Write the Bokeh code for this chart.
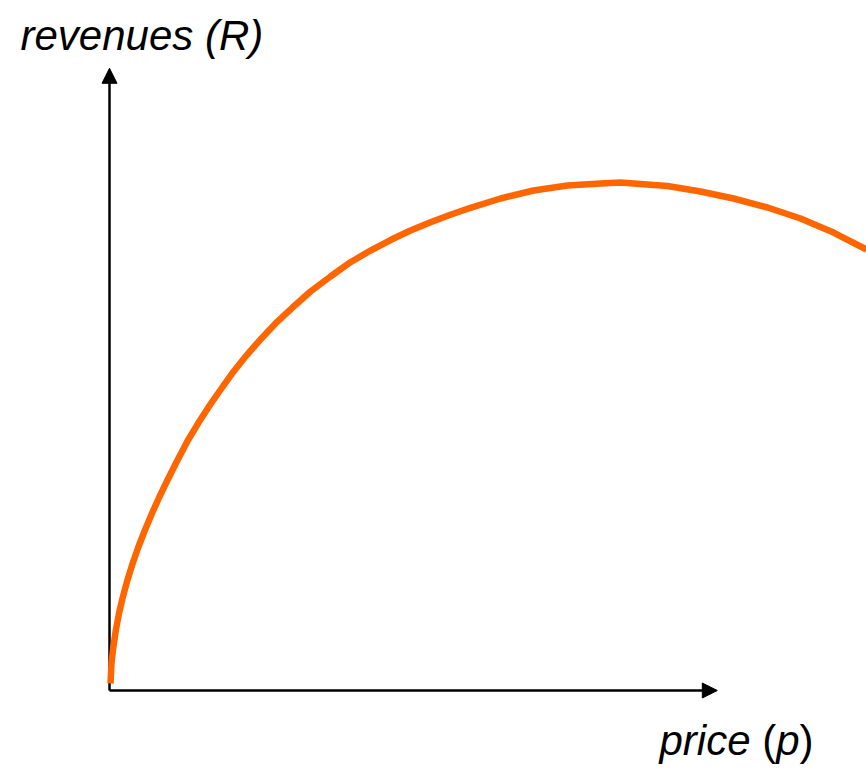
from bokeh.plotting import figure
from bokeh.models import Arrow, NormalHead, Range1d
from bokeh.core.properties import value
from bokeh.embed import file_html
from bokeh.resources import INLINE

# Revenue curve R(p) (arbitrary units, no ticks shown)
price = [0.017, 0.033, 0.063, 0.105, 0.158, 0.220, 0.297, 0.385, 0.478, 0.588,
         0.707, 0.827, 0.963, 1.105, 1.305, 1.472, 1.650, 1.842, 2.042, 2.258,
         2.500, 2.767, 3.050, 3.350, 3.683, 4.017, 4.350, 4.683, 5.017, 5.350,
         5.683, 6.017, 6.517, 7.067, 7.633, 8.183, 8.517, 8.733, 9.300, 9.850,
         10.400, 10.967, 11.517, 12.067, 12.617]
revenue = [0.117, 0.450, 0.717, 1.000, 1.283, 1.550, 1.833, 2.117, 2.383, 2.667,
           2.950, 3.217, 3.500, 3.783, 4.167, 4.445, 4.722, 5.000, 5.283, 5.555,
           5.833, 6.117, 6.383, 6.650, 6.900, 7.138, 7.333, 7.508, 7.667, 7.805,
           7.928, 8.045, 8.200, 8.333, 8.417, 8.450, 8.467, 8.450, 8.408, 8.317,
           8.200, 8.050, 7.867, 7.633, 7.350]
x_axis_end = 10.13
y_axis_end = 10.37
y_label = "revenues (R)"
x_label_parts = ["price", "(", "p", ")"]
x_label_styles = ["italic", "normal", "italic", "normal"]

W, H = 866, 769
PX = 60.0  # pixels per unit
OX, OY = 109, 690  # origin position on the page
p = figure(width=W, height=H, output_backend="svg", toolbar_location=None,
           x_axis_type=None, y_axis_type=None,
           x_range=Range1d(-OX / PX, (W - OX) / PX),
           y_range=Range1d((OY - H) / PX, OY / PX),
           min_border=0, min_border_left=0, min_border_right=0,
           min_border_top=0, min_border_bottom=0)
p.outline_line_color = None
p.grid.visible = False
p.background_fill_color = "white"
p.border_fill_color = "white"

# axes with arrow heads
for xe, ye in [(0, y_axis_end), (x_axis_end, 0)]:
    arr = Arrow(x_start=0, y_start=0, x_end=xe, y_end=ye,
                line_color="black", line_width=2.5,
                end=NormalHead(size=15, fill_color="black", line_color="black", line_width=1),
                level="underlay")
    p.add_layout(arr)

# revenue curve
p.line(price, revenue, line_color="#FF6600", line_width=6.5, line_join="round")

FS = "42px"
font = value("Liberation Sans")
BASE_FIX = 15  # compensation for baseline placement


def ux(px):
    return (px - OX) / PX


def uy(py):
    return (OY - py) / PX


# y label
p.text(x=[ux(20)], y=[uy(50 - BASE_FIX)], text=[y_label],
       text_font=font, text_font_size=FS, text_font_style="italic",
       text_align="left", text_baseline="alphabetic", text_color="black")

# x label with mixed styles
em = 42
advance = {"price": 2.167 + 0.278, "(": 0.333, "p": 0.556, ")": 0.333}
px0 = 659
for part, style in zip(x_label_parts, x_label_styles):
    p.text(x=[ux(px0)], y=[uy(755 - BASE_FIX)], text=[part],
           text_font=font, text_font_size=FS, text_font_style=style,
           text_align="left", text_baseline="alphabetic", text_color="black")
    px0 += advance[part] * em

open("out.html", "w").write(file_html(p, INLINE))
